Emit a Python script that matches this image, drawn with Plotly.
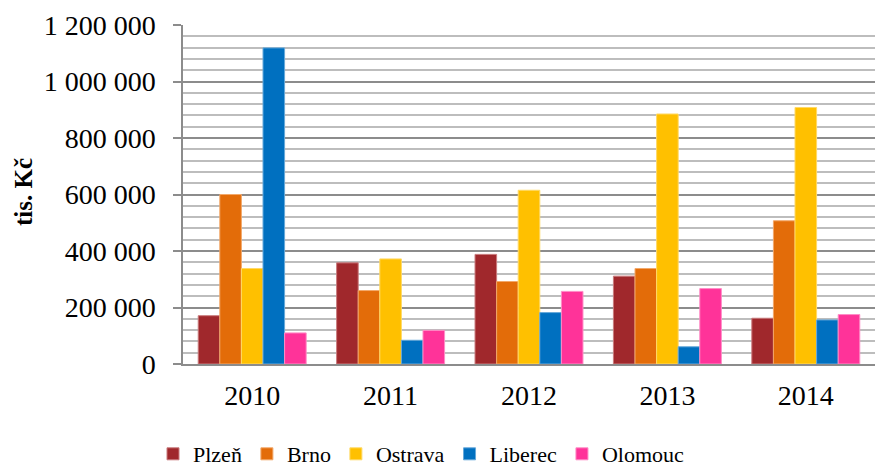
import plotly.graph_objects as go

years = ["2010", "2011", "2012", "2013", "2014"]
series_names = ["Plzeň", "Brno", "Ostrava", "Liberec", "Olomouc"]
plzen = [171000, 358000, 388000, 311000, 162000]
brno = [600000, 260000, 292000, 338000, 507000]
ostrava = [338000, 372000, 615000, 885000, 908000]
liberec = [1119000, 84000, 182000, 61000, 156000]
olomouc = [110000, 119000, 257000, 267000, 175000]
colors = ["#A0282C", "#E36C09", "#FFC000", "#0070C0", "#FF3399"]
edge_colors = ["#C97A7C", "#F2A86A", "#FFD966", "#66A9DA", "#FF8CC6"]

values = [plzen, brno, ostrava, liberec, olomouc]
FONT = "Liberation Serif"

W, H = 878, 468
L, R, T, B = 183, 3, 25, 104
PW, PH = W - L - R, H - T - B

fig = go.Figure()
for name, vals, c, ec in zip(series_names, values, colors, edge_colors):
    fig.add_trace(go.Bar(x=years, y=vals, name=name,
                         marker=dict(color=c, line=dict(color=ec, width=1))))

fig.add_annotation(text="<b>tis. Kč</b>", xref="paper", yref="paper",
                   x=(24 - L) / PW, y=(T + PH - 192) / PH, textangle=-90,
                   showarrow=False, xanchor="center", yanchor="middle",
                   font=dict(family=FONT, size=25, color="black"))

fig.update_layout(
    width=W, height=H,
    margin=dict(l=L, r=R, t=T, b=B, autoexpand=False),
    paper_bgcolor="white", plot_bgcolor="white",
    barmode="group", bargap=0.22, bargroupgap=0,
    separators=", ",
    font=dict(family=FONT, size=22, color="black"),
    showlegend=True,
    legend=dict(orientation="h", x=(153 - L) / PW, xanchor="left",
                y=(T + PH - 454) / PH, yanchor="middle",
                font=dict(family=FONT, size=22), itemwidth=30,
                traceorder="normal"),
    xaxis=dict(showline=True, linecolor="#8c8c8c", linewidth=1.5, ticks="",
               tickfont=dict(family=FONT, size=28), showgrid=False,
               ticklabelstandoff=6),
    yaxis=dict(range=[0, 1200000], dtick=200000, tickformat=",d",
               showline=True, linecolor="#8c8c8c", linewidth=1.5,
               ticks="outside", ticklen=8, tickcolor="#8c8c8c", tickwidth=1.5,
               showgrid=True, gridcolor="#8c8c8c", gridwidth=1.5,
               minor=dict(dtick=40000, showgrid=True, gridcolor="#bdbdbd", gridwidth=1.5),
               tickfont=dict(family=FONT, size=28),
               ticklabelstandoff=12,
               zeroline=False),
)

fig.write_html("out.html", config={"displayModeBar": False},
               post_script="document.body.style.margin='0';document.body.style.overflow='hidden';")
